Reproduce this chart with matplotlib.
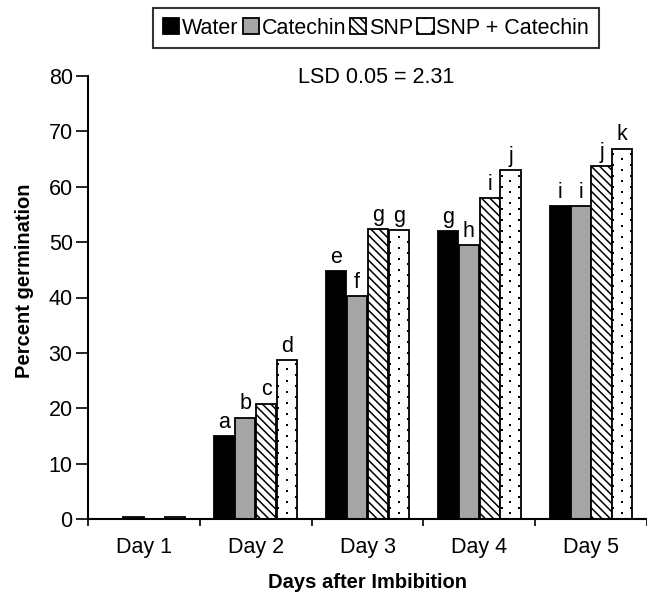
import matplotlib
matplotlib.use("Agg")
import matplotlib.pyplot as plt
import numpy as np

plt.rcParams['font.family'] = ['Liberation Sans', 'DejaVu Sans']
plt.rcParams['hatch.linewidth'] = 1.1

days = ["Day 1", "Day 2", "Day 3", "Day 4", "Day 5"]
series_names = ["Water", "Catechin", "SNP", "SNP + Catechin"]
water = [0.0, 15.0, 44.8, 52.0, 56.5]
catechin = [0.4, 18.3, 40.3, 49.5, 56.5]
snp = [0.0, 20.8, 52.4, 58.0, 63.7]
snp_cat = [0.4, 28.7, 52.1, 63.0, 66.9]
letters_water = ["", "a", "e", "g", "i"]
letters_catechin = ["", "b", "f", "h", "i"]
letters_snp = ["", "c", "g", "i", "j"]
letters_snp_cat = ["", "d", "g", "j", "k"]
lsd_text = "LSD 0.05 = 2.31"

values = [water, catechin, snp, snp_cat]
letters = [letters_water, letters_catechin, letters_snp, letters_snp_cat]
faces = ["black", "#a6a6a6", "white", "white"]
hatches = [None, None, "\\\\\\\\", None]

FS = 15.5

fig = plt.figure(figsize=(6.47, 5.93), dpi=100)
ax = fig.add_axes([88/647, 1-519/593, 1-88/647, (519-76)/593])

x = np.arange(len(days))
step = 0.186
width = 0.18
offsets = (np.arange(4) - 1.5) * step
handles = []
for i in range(4):
    b = ax.bar(x + offsets[i], values[i], width, color=faces[i], edgecolor="black",
               linewidth=1.3, hatch=hatches[i], label=series_names[i], zorder=2)
    handles.append(b)
    if i == 3:
        # stippled fill drawn inside each bar
        for rect in b.patches:
            x0, w, h = rect.get_x(), rect.get_width(), rect.get_height()
            ys = np.arange(1.0, h - 0.4, 1.0)
            for k, yy in enumerate(ys):
                if k % 2 == 0:
                    xs = [x0 + w / 2]
                else:
                    xs = [x0 + 0.06 * w, x0 + 0.94 * w]
                ax.plot(xs, [yy] * len(xs), "s", ms=1.8, color="black", mew=0, zorder=3)
    for j in range(len(days)):
        if letters[i][j]:
            ax.text(x[j] + offsets[i], values[i][j] + 0.6, letters[i][j], ha="center",
                    va="bottom", fontsize=FS)

ax.set_ylim(0, 80)
ax.set_xlim(-0.5, (647 - 144.5) / 113)
ax.set_yticks(np.arange(0, 81, 10))
ax.set_xticks(x)
ax.set_xticklabels(days, fontsize=FS)
ax.set_xticks(np.arange(-0.5, 5.0, 1.0), minor=True)
ax.tick_params(axis="x", which="major", length=0, pad=13)
ax.tick_params(axis="x", which="minor", length=5, width=1.2, direction="out")
ax.tick_params(axis="y", labelsize=FS, length=9, width=1.2, direction="out", pad=2)
for s in ["top", "right"]:
    ax.spines[s].set_visible(False)
for s in ["left", "bottom"]:
    ax.spines[s].set_linewidth(1.5)

ax.set_ylabel("Percent germination", fontsize=14.5, fontweight="bold")
ax.yaxis.set_label_coords(-(88 - 34) / 559, 0.537)
ax.set_xlabel("Days after Imbibition", fontsize=14.5, fontweight="bold")
ax.xaxis.set_label_coords(0.5, -(582 - 519) / 443)
ax.xaxis.label.set_va("center")

ax.text(2.08, 79.7, lsd_text, ha="center", va="center", fontsize=FS)

# legend handle for stippled series
from matplotlib.patches import Rectangle
leg_handles = handles[:3] + [Rectangle((0, 0), 1, 1, facecolor="white", edgecolor="black",
                                       linewidth=1.3, hatch=".")]
leg = fig.legend(handles=leg_handles, labels=series_names, loc="center",
                 bbox_to_anchor=(376/647, 1-28/593), ncol=4, frameon=True,
                 fancybox=False, edgecolor="black", fontsize=FS,
                 handlelength=0.75, handleheight=0.75, handletextpad=0.12,
                 columnspacing=0.2, borderpad=0.45, borderaxespad=0)
leg.get_frame().set_linewidth(1.5)

fig.savefig("out.png", dpi=100)
